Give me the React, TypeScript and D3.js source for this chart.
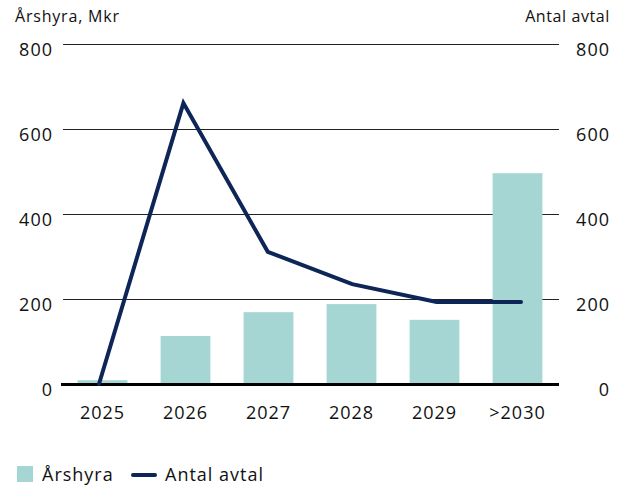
import React, { useEffect, useRef } from "react";
import { select, scaleBand, scaleLinear, scalePoint, line } from "d3";

const categories = ["2025", "2026", "2027", "2028", "2029", ">2030"];
const arshyra = [9, 113, 169, 188, 151, 496];
const antalAvtal = [0, 661, 311, 235, 193, 193];
const ticks = [0, 200, 400, 600, 800];

const FONT = "'Open Sans', sans-serif";

export default function App(): JSX.Element {
    const ref = useRef<SVGSVGElement>(null);

    useEffect(() => {
        const width = 620;
        const height = 486;
        const svg = select(ref.current).attr("width", width).attr("height", height);
        svg.selectAll("*").remove();

        const left = 61;
        const right = 559;
        const top = 44;
        const bottom = 384;

        const x = scaleBand().domain(categories).range([left, right]).paddingInner(0.4).paddingOuter(0.2);
        // the line's points sit slightly wider than the bar centres
        const xl = scalePoint().domain(categories).range([99, 521]);
        const y = scaleLinear().domain([0, 800]).range([bottom, top]);
        const y2 = scaleLinear().domain([0, 800]).range([bottom, top]);

        // gridlines
        svg.append("g")
            .selectAll("line")
            .data(ticks.filter((t) => t > 0))
            .join("line")
            .attr("x1", left + 2)
            .attr("x2", right)
            .attr("y1", (d) => y(d) + 0.5)
            .attr("y2", (d) => y(d) + 0.5)
            .attr("stroke", "#222")
            .attr("stroke-width", 1);

        // bars
        svg.append("g")
            .selectAll("rect")
            .data(arshyra)
            .join("rect")
            .attr("x", (_, i) => x(categories[i]) || 0)
            .attr("y", (d) => y(d))
            .attr("width", x.bandwidth())
            .attr("height", (d) => bottom - y(d))
            .attr("fill", "#a5d6d4");

        // baseline
        svg.append("line")
            .attr("x1", left)
            .attr("x2", right)
            .attr("y1", bottom + 0.5)
            .attr("y2", bottom + 0.5)
            .attr("stroke", "#000")
            .attr("stroke-width", 3);

        // line series
        const lineGen = line<number>()
            .x((_, i) => xl(categories[i]) || 0)
            .y((d) => y2(d));
        svg.append("path")
            .datum(antalAvtal)
            .attr("d", lineGen)
            .attr("fill", "none")
            .attr("stroke", "#0e2557")
            .attr("stroke-width", 4)
            .attr("stroke-linecap", "round")
            .attr("stroke-linejoin", "miter");

        const txt = (sel: any, size: number) =>
            sel.attr("font-size", size).attr("font-family", FONT).attr("fill", "#111").attr("letter-spacing", 1);

        // left tick labels
        svg.append("g")
            .selectAll("text")
            .data(ticks)
            .join("text")
            .attr("x", 53)
            .attr("y", (d) => y(d) + 12)
            .attr("text-anchor", "end")
            .call(txt, 18)
            .text((d) => d);

        // right tick labels
        svg.append("g")
            .selectAll("text")
            .data(ticks)
            .join("text")
            .attr("x", 610)
            .attr("y", (d) => y2(d) + 12)
            .attr("text-anchor", "end")
            .call(txt, 18)
            .text((d) => d);

        // x labels
        svg.append("g")
            .selectAll("text")
            .data(categories)
            .join("text")
            .attr("x", (d) => (x(d) || 0) + x.bandwidth() / 2)
            .attr("y", 419)
            .attr("text-anchor", "middle")
            .call(txt, 18)
            .text((d) => d);

        // axis titles
        svg.append("text")
            .attr("x", 15)
            .attr("y", 22)
            .call(txt, 16)
            .attr("letter-spacing", 0.8)
            .text("Årshyra, Mkr");
        svg.append("text")
            .attr("x", 610)
            .attr("y", 22)
            .attr("text-anchor", "end")
            .call(txt, 16)
            .attr("letter-spacing", 0.6)
            .text("Antal avtal");

        // legend
        const lg = svg.append("g");
        lg.append("rect").attr("x", 17).attr("y", 466).attr("width", 16).attr("height", 16).attr("fill", "#a5d6d4");
        lg.append("text").attr("x", 42).attr("y", 481).call(txt, 18).text("Årshyra");
        lg.append("line")
            .attr("x1", 133)
            .attr("x2", 155)
            .attr("y1", 475)
            .attr("y2", 475)
            .attr("stroke", "#0e2557")
            .attr("stroke-width", 4)
            .attr("stroke-linecap", "round");
        lg.append("text").attr("x", 165).attr("y", 481).call(txt, 18).text("Antal avtal");
    }, []);

    return (
        <div style={{ position: "absolute", left: 0, top: 0 }}>
            <svg ref={ref}></svg>
        </div>
    );
}
